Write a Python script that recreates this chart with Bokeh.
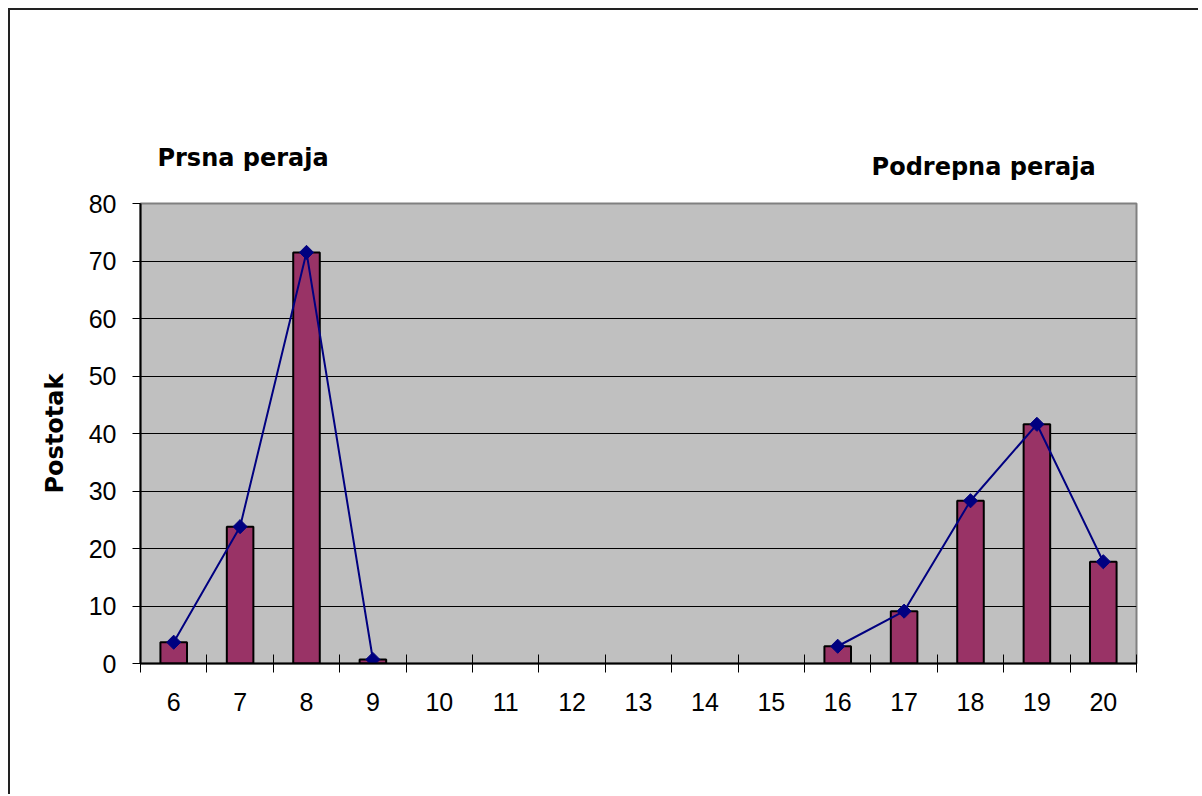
import math
from bokeh.plotting import figure
from bokeh.layouts import column
from bokeh.models import Range1d, FixedTicker, ColumnDataSource
from bokeh.core.properties import value
from bokeh.embed import file_html
from bokeh.resources import INLINE

NaN = float("nan")
categories = [6, 7, 8, 9, 10, 11, 12, 13, 14, 15, 16, 17, 18, 19, 20]
postotak = [3.7, 23.8, 71.5, 0.7, NaN, NaN, NaN, NaN, NaN, NaN, 3.0, 9.1, 28.3, 41.6, 17.7]
y_ticks = [0, 10, 20, 30, 40, 50, 60, 70, 80]
titles = ["Prsna peraja", "Podrepna peraja"]
y_label = "Postotak"

FONT = "Liberation Sans"
TFONT = "DejaVu Sans"
W, H = 1190, 786
TOP_H = 176
LEFT, RIGHT, TOPB, BOTTOM = 130, 64, 19, 131

x0 = categories[0] - 0.5
x1 = categories[-1] + 0.5
xr = Range1d(x0, x1)

# ---- header strip with the two group titles (shares the x scale) ----
top = figure(width=W, height=TOP_H, output_backend="svg", toolbar_location=None,
             x_range=xr, y_range=Range1d(0, TOP_H), x_axis_type=None, y_axis_type=None,
             min_border_left=LEFT, min_border_right=RIGHT, min_border_top=0,
             min_border_bottom=0)
top.styles = {"border-left": "2px solid #222", "border-top": "2px solid #222"}
top.outline_line_color = None
top.grid.visible = False
tsrc = ColumnDataSource(dict(x=[5.755, 16.51], y=[29, 20], t=titles))
top.text(x="x", y="y", text="t", source=tsrc, text_font=value(TFONT), text_font_size="24px",
         text_font_style="bold", text_color="black", text_baseline="alphabetic",
         text_align="left")

# ---- main chart ----
src = ColumnDataSource(dict(x=categories, y=postotak))
p = figure(width=W, height=H - TOP_H, output_backend="svg", toolbar_location=None,
           x_range=xr, y_range=Range1d(y_ticks[0], y_ticks[-1]),
           min_border_left=LEFT, min_border_right=RIGHT, min_border_top=TOPB,
           min_border_bottom=BOTTOM)
p.styles = {"border-left": "2px solid #222"}
p.background_fill_color = "#C0C0C0"
p.border_fill_color = "white"
p.outline_line_color = "#808080"
p.outline_line_width = 2

p.ygrid.ticker = FixedTicker(ticks=y_ticks[1:-1])
p.ygrid.grid_line_color = "black"
p.ygrid.grid_line_width = 1
p.xgrid.visible = False

p.vbar(x="x", top="y", width=0.4, source=src, fill_color="#993366",
       line_color="black", line_width=2)
p.line(x="x", y="y", source=src, line_color="#000080", line_width=2)
p.scatter(x="x", y="y", source=src, marker="square", angle=math.pi / 4, size=10,
          fill_color="#000080", line_color="#000080")

p.xaxis.ticker = FixedTicker(ticks=categories,
                             minor_ticks=[c - 0.5 for c in categories] + [x1])
p.xaxis.major_tick_in = 0
p.xaxis.major_tick_out = 0
p.xaxis.minor_tick_in = 9
p.xaxis.minor_tick_out = 9
p.xaxis.minor_tick_line_color = "black"
p.xaxis.axis_line_color = "black"
p.xaxis.axis_line_width = 2
p.xaxis.major_label_standoff = 20
p.xaxis.major_label_text_font = FONT
p.xaxis.major_label_text_font_size = "25px"
p.xaxis.major_label_text_color = "black"

p.yaxis.ticker = FixedTicker(ticks=y_ticks)
p.yaxis.minor_tick_line_color = None
p.yaxis.major_tick_in = 0
p.yaxis.major_tick_out = 8
p.yaxis.axis_line_color = "black"
p.yaxis.axis_line_width = 2
p.yaxis.major_label_standoff = 16
p.yaxis.major_label_text_font = FONT
p.yaxis.major_label_text_font_size = "25px"
p.yaxis.major_label_text_color = "black"
p.yaxis.axis_label = y_label
p.yaxis.axis_label_text_font = TFONT
p.yaxis.axis_label_text_font_size = "24px"
p.yaxis.axis_label_text_font_style = "bold"
p.yaxis.axis_label_text_color = "black"
p.yaxis.axis_label_standoff = 17

layout = column(top, p, spacing=0)
layout.styles = {"margin-left": "8px", "margin-top": "8px"}
open("out.html", "w").write(file_html(layout, INLINE))
